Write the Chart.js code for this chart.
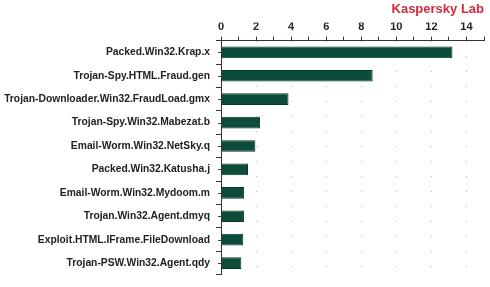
<!DOCTYPE html>
<html>
<head>
<meta charset="utf-8">
<script src="https://cdn.jsdelivr.net/npm/chart.js@4/dist/chart.umd.min.js"></script>
<style>
  html,body{margin:0;padding:0;background:#fff}
  #wrap{width:490px;height:287px;position:relative}
</style>
</head>
<body>
<div id="wrap"><canvas id="c"></canvas></div>
<script>
// top 10 malicious programs
const categories = [
  'Packed.Win32.Krap.x',
  'Trojan-Spy.HTML.Fraud.gen',
  'Trojan-Downloader.Win32.FraudLoad.gmx',
  'Trojan-Spy.Win32.Mabezat.b',
  'Email-Worm.Win32.NetSky.q',
  'Packed.Win32.Katusha.j',
  'Email-Worm.Win32.Mydoom.m',
  'Trojan.Win32.Agent.dmyq',
  'Exploit.HTML.IFrame.FileDownload',
  'Trojan-PSW.Win32.Agent.qdy'
];
const shares = [13.2, 8.65, 3.85, 2.23, 1.96, 1.54, 1.31, 1.31, 1.27, 1.16];
const xTicks = [0, 2, 4, 6, 8, 10, 12, 14];

const fam = '"Liberation Sans", Arial, sans-serif';
const labelFont = {family:fam, size:10.3, weight:'bold'};

// small marks at the middle of every category, left of the y axis
const centerMarks = {
  id:'centerMarks',
  afterDraw(chart){
    const y = chart.scales.y, ctx = chart.ctx;
    ctx.save(); ctx.strokeStyle = '#444'; ctx.lineWidth = 1;
    y.ticks.forEach((t,i)=>{
      const py = Math.round(y.getPixelForTick(i)) + 0.5;
      ctx.beginPath(); ctx.moveTo(y.right - 3, py); ctx.lineTo(y.right, py); ctx.stroke();
    });
    ctx.restore();
  }
};

new Chart(el('#c'), {
  type:'bar',
  data:{labels:categories, datasets:[{data:shares, backgroundColor:'#0d4b3b', borderColor:'#08382b', borderWidth:1, barPercentage:0.5, categoryPercentage:1}]},
  options:{
    indexAxis:'y', responsive:true, maintainAspectRatio:false, animation:false,
    layout:{padding:{left:0, right:6, top:0, bottom:7}},
    plugins:{
      legend:{display:false}, tooltip:{enabled:false},
      title:{display:true, text:'Kaspersky Lab', align:'end', color:'#d42a3c',
        font:{family:fam, size:13, weight:'bold'}, padding:{top:2, bottom:5}}
    },
    scales:{
      x:{
        position:'top', min:0, max:15,
        afterBuildTicks(s){ s.ticks = Array.from({length:16}, (_, i)=>({value:i})); },
        ticks:{autoSkip:false, maxRotation:0, padding:3, color:'#222', font:{family:fam, size:11, weight:'bold'},
          callback:(v)=> xTicks.includes(v) ? String(v) : ''},
        grid:{drawOnChartArea:true, tickLength:4, tickColor:'#333',
          color:(ctx)=> (ctx.tick && ctx.tick.value > 0 && xTicks.includes(ctx.tick.value)) ? '#b8b8b8' : 'rgba(0,0,0,0)'},
        border:{display:true, color:'#333', width:1, dash:[1,14]},
        afterFit(s){ s.height = 18; }
      },
      y:{
        ticks:{color:'#222', font:labelFont, padding:6, autoSkip:false},
        grid:{offset:true, drawOnChartArea:false, tickLength:5, tickColor:'#333'},
        border:{display:true, color:'#333', width:1},
        afterFit(s){ s.width = 221; }
      }
    }
  },
  plugins:[centerMarks]
});

function el(s){ return document.querySelector(s); }
</script>
</body>
</html>
